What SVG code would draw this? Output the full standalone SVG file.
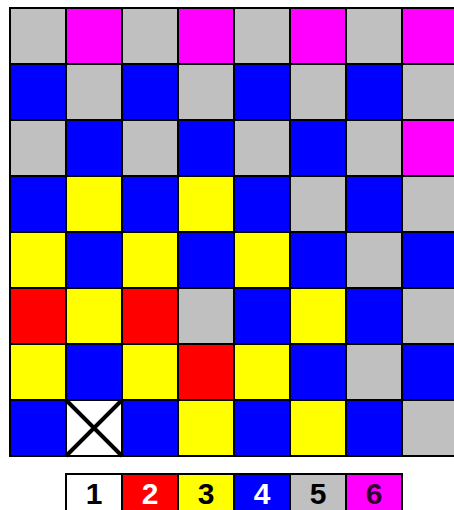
<svg xmlns="http://www.w3.org/2000/svg" width="454" height="510" viewBox="0 0 454 510">
<style>
.c{stroke:#000;stroke-width:2}
.g{fill:#C0C0C0}.m{fill:#FF00FF}.b{fill:#0000FF}.y{fill:#FFFF00}.r{fill:#FF0000}.w{fill:#FFFFFF}
text{font-family:"Liberation Sans",Arial,sans-serif;font-weight:bold;font-size:30px;text-anchor:middle}
.tw{fill:#FFFFFF}.tk{fill:#000000}.tp{fill:#300030}
</style>
<rect width="454" height="510" fill="#fff"/>
<g id="grid">
<rect class="c g" x="10" y="8" width="56" height="56"/><rect class="c m" x="66" y="8" width="56" height="56"/><rect class="c g" x="122" y="8" width="56" height="56"/><rect class="c m" x="178" y="8" width="56" height="56"/><rect class="c g" x="234" y="8" width="56" height="56"/><rect class="c m" x="290" y="8" width="56" height="56"/><rect class="c g" x="346" y="8" width="56" height="56"/><rect class="c m" x="402" y="8" width="56" height="56"/>
<rect class="c b" x="10" y="64" width="56" height="56"/><rect class="c g" x="66" y="64" width="56" height="56"/><rect class="c b" x="122" y="64" width="56" height="56"/><rect class="c g" x="178" y="64" width="56" height="56"/><rect class="c b" x="234" y="64" width="56" height="56"/><rect class="c g" x="290" y="64" width="56" height="56"/><rect class="c b" x="346" y="64" width="56" height="56"/><rect class="c g" x="402" y="64" width="56" height="56"/>
<rect class="c g" x="10" y="120" width="56" height="56"/><rect class="c b" x="66" y="120" width="56" height="56"/><rect class="c g" x="122" y="120" width="56" height="56"/><rect class="c b" x="178" y="120" width="56" height="56"/><rect class="c g" x="234" y="120" width="56" height="56"/><rect class="c b" x="290" y="120" width="56" height="56"/><rect class="c g" x="346" y="120" width="56" height="56"/><rect class="c m" x="402" y="120" width="56" height="56"/>
<rect class="c b" x="10" y="176" width="56" height="56"/><rect class="c y" x="66" y="176" width="56" height="56"/><rect class="c b" x="122" y="176" width="56" height="56"/><rect class="c y" x="178" y="176" width="56" height="56"/><rect class="c b" x="234" y="176" width="56" height="56"/><rect class="c g" x="290" y="176" width="56" height="56"/><rect class="c b" x="346" y="176" width="56" height="56"/><rect class="c g" x="402" y="176" width="56" height="56"/>
<rect class="c y" x="10" y="232" width="56" height="56"/><rect class="c b" x="66" y="232" width="56" height="56"/><rect class="c y" x="122" y="232" width="56" height="56"/><rect class="c b" x="178" y="232" width="56" height="56"/><rect class="c y" x="234" y="232" width="56" height="56"/><rect class="c b" x="290" y="232" width="56" height="56"/><rect class="c g" x="346" y="232" width="56" height="56"/><rect class="c b" x="402" y="232" width="56" height="56"/>
<rect class="c r" x="10" y="288" width="56" height="56"/><rect class="c y" x="66" y="288" width="56" height="56"/><rect class="c r" x="122" y="288" width="56" height="56"/><rect class="c g" x="178" y="288" width="56" height="56"/><rect class="c b" x="234" y="288" width="56" height="56"/><rect class="c y" x="290" y="288" width="56" height="56"/><rect class="c b" x="346" y="288" width="56" height="56"/><rect class="c g" x="402" y="288" width="56" height="56"/>
<rect class="c y" x="10" y="344" width="56" height="56"/><rect class="c b" x="66" y="344" width="56" height="56"/><rect class="c y" x="122" y="344" width="56" height="56"/><rect class="c r" x="178" y="344" width="56" height="56"/><rect class="c y" x="234" y="344" width="56" height="56"/><rect class="c b" x="290" y="344" width="56" height="56"/><rect class="c g" x="346" y="344" width="56" height="56"/><rect class="c b" x="402" y="344" width="56" height="56"/>
<rect class="c b" x="10" y="400" width="56" height="56"/><rect class="c w" x="66" y="400" width="56" height="56"/><rect class="c b" x="122" y="400" width="56" height="56"/><rect class="c y" x="178" y="400" width="56" height="56"/><rect class="c b" x="234" y="400" width="56" height="56"/><rect class="c y" x="290" y="400" width="56" height="56"/><rect class="c b" x="346" y="400" width="56" height="56"/><rect class="c g" x="402" y="400" width="56" height="56"/>
<path d="M66 400 L122 456 M122 400 L66 456" stroke="#000" stroke-width="4" fill="none"/>
</g>
<g id="legend">
<rect class="c w" x="66" y="474" width="56" height="40"/><rect class="c r" x="122" y="474" width="56" height="40"/><rect class="c y" x="178" y="474" width="56" height="40"/><rect class="c b" x="234" y="474" width="56" height="40"/><rect class="c g" x="290" y="474" width="56" height="40"/><rect class="c m" x="346" y="474" width="56" height="40"/>
<text class="tk" x="94" y="504">1</text><text class="tw" x="150" y="504">2</text><text class="tk" x="206" y="504">3</text><text class="tw" x="262" y="504">4</text><text class="tk" x="318" y="504">5</text><text class="tp" x="374" y="504">6</text>
</g>
</svg>
